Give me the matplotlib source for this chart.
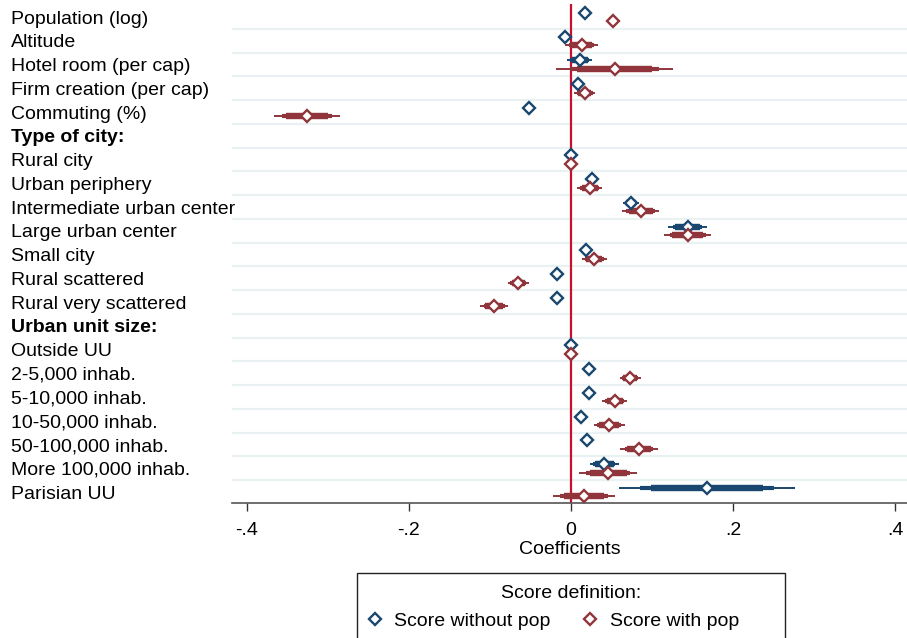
import numpy as np
import matplotlib
matplotlib.use("Agg")
import matplotlib.pyplot as plt
from matplotlib.lines import Line2D
from matplotlib.patches import Rectangle

plt.rcParams['font.family'] = ['Liberation Sans', 'DejaVu Sans']

labels = ["Population (log)", "Altitude", "Hotel room (per cap)", "Firm creation (per cap)",
          "Commuting (%)", "Type of city:", "Rural city", "Urban periphery",
          "Intermediate urban center", "Large urban center", "Small city", "Rural scattered",
          "Rural very scattered", "Urban unit size:", "Outside UU", "2-5,000 inhab.",
          "5-10,000 inhab.", "10-50,000 inhab.", "50-100,000 inhab.", "More 100,000 inhab.",
          "Parisian UU"]
headers = ["Type of city:", "Urban unit size:"]

# score without pop
coef_wo = [0.017, -0.007, 0.011, 0.009, -0.052, np.nan, 0.0, 0.026, 0.074, 0.144, 0.019,
           -0.017, -0.017, np.nan, 0.0, 0.022, 0.022, 0.012, 0.020, 0.041, 0.168]
se_wo = [0.002, 0.002, 0.006, 0.002, 0.002, np.nan, 0.0, 0.003, 0.004, 0.0093, 0.002,
         0.002, 0.002, np.nan, 0.0, 0.002, 0.002, 0.002, 0.002, 0.007, 0.042]

# score with pop
coef_w = [0.052, 0.013, 0.054, 0.017, -0.326, np.nan, 0.0, 0.023, 0.086, 0.144, 0.029,
          -0.065, -0.095, np.nan, 0.0, 0.073, 0.054, 0.047, 0.084, 0.046, 0.016]
se_w = [0.002, 0.008, 0.028, 0.005, 0.016, np.nan, 0.0, 0.006, 0.009, 0.0114, 0.006,
        0.005, 0.0066, np.nan, 0.0, 0.005, 0.006, 0.0074, 0.009, 0.014, 0.015]

xticks = [-0.4, -0.2, 0, 0.2, 0.4]
xticklabels = ["-.4", "-.2", "0", ".2", ".4"]

BLUE = "#1a476f"
RED = "#90353b"


def plot_series(ax, coef, se, offset, color):
    coef = np.array(coef)
    se = np.array(se)
    y = np.arange(len(coef)) + offset
    ok = ~np.isnan(coef)
    # 99, 95, 90 percent intervals, thin to thick
    for z, lw in [(2.576, 1.4), (1.96, 3.0), (1.645, 4.6)]:
        ax.hlines(y[ok], coef[ok] - z * se[ok], coef[ok] + z * se[ok], color=color,
                  lw=lw, zorder=2)
    ax.plot(coef, y, ls="none", marker="D", ms=6.3, mfc="white", mec=color, mew=1.7,
            zorder=3)


def main():
    fig = plt.figure(figsize=(9.07, 6.38), dpi=100)
    ax = fig.add_axes([232 / 907, 135 / 638, 675 / 907, 499 / 638])

    n = len(labels)
    ax.hlines(np.arange(0.5, n - 1), -0.43, 0.43, color="#e9f1f3", lw=1.6, zorder=0)
    ax.axvline(0, color="#c8102e", lw=1.6, zorder=1)

    plot_series(ax, coef_wo, se_wo, -0.18, BLUE)
    plot_series(ax, coef_w, se_w, 0.18, RED)

    ax.set_xlim(-0.4185, 0.4148)
    ax.set_ylim(20.46, -0.55)

    ax.set_yticks(np.arange(n))
    ax.set_yticklabels(labels, fontsize=14)
    for t in ax.get_yticklabels():
        t.set_ha("left")
        if t.get_text() in headers:
            t.set_fontweight("bold")
    ax.tick_params(axis="y", length=0, pad=159)

    ax.set_xticks(xticks)
    ax.set_xticklabels(xticklabels, fontsize=14)
    ax.tick_params(axis="x", length=6, width=1, color="#333333", pad=8)
    ax.set_xlabel("Coefficients", fontsize=14, labelpad=1)

    for s in ["left", "right", "top"]:
        ax.spines[s].set_visible(False)
    ax.spines["bottom"].set_color("#555555")
    ax.spines["bottom"].set_linewidth(1.2)

    # legend box
    fig.patches.append(Rectangle((357 / 907, -0.02), 428 / 907, 1 - 573 / 638 + 0.02,
                                 transform=fig.transFigure, fill=False,
                                 edgecolor="#222222", lw=1.0))
    fig.text(571 / 907, 1 - 593 / 638, "Score definition:", ha="center", va="center",
             fontsize=14)
    handles = [Line2D([], [], ls="none", marker="D", ms=6.3, mfc="white", mec=BLUE, mew=1.7),
               Line2D([], [], ls="none", marker="D", ms=6.3, mfc="white", mec=RED, mew=1.7)]
    fig.legend(handles, ["Score without pop", "Score with pop"], ncol=2, frameon=False,
               loc="center left", bbox_to_anchor=(357 / 907, 1 - 621 / 638),
               borderaxespad=0, borderpad=0.5, handlelength=0.8, handletextpad=0.6,
               columnspacing=1.65, fontsize=14)

    fig.savefig("out.png", dpi=100)


if __name__ == "__main__":
    main()
